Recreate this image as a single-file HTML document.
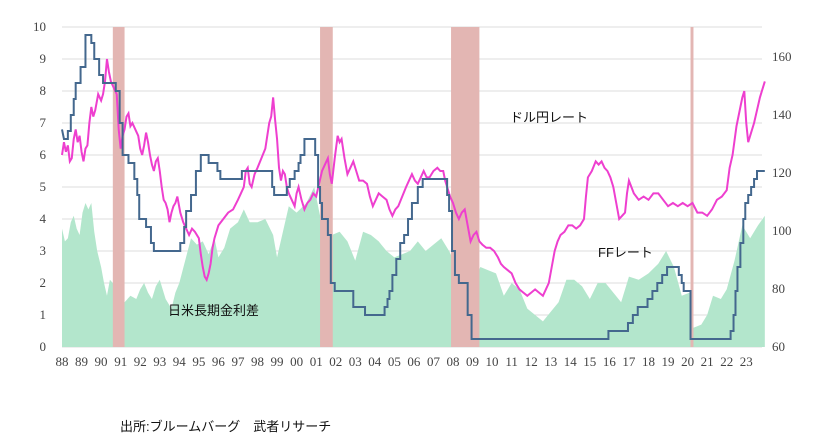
<!DOCTYPE html><html><head><meta charset="utf-8"><style>body{margin:0;background:#fff}svg{display:block}text{font-family:"Liberation Serif","Noto Serif CJK SC",serif;fill:#444;font-size:13px}.jp{font-family:"Liberation Sans","Noto Sans CJK JP",sans-serif;fill:#111}</style></head><body>
<svg width="825" height="438" xmlns="http://www.w3.org/2000/svg">
<g stroke="#dedede" stroke-width="1">
<line x1="62" x2="762" y1="27" y2="27"/><line x1="62" x2="762" y1="59" y2="59"/><line x1="62" x2="762" y1="91" y2="91"/><line x1="62" x2="762" y1="123" y2="123"/><line x1="62" x2="762" y1="155" y2="155"/><line x1="62" x2="762" y1="187" y2="187"/><line x1="62" x2="762" y1="219" y2="219"/><line x1="62" x2="762" y1="251" y2="251"/><line x1="62" x2="762" y1="283" y2="283"/><line x1="62" x2="762" y1="315" y2="315"/><line x1="62" x2="762" y1="347" y2="347"/>
</g>
<g transform="translate(62 347) scale(19.55 -32) translate(-1988 0)">
<polygon fill="#b3e6cc" points="1988,0 1988,3.7 1988.15,3.3 1988.3,3.4 1988.45,3.9 1988.6,4.1 1988.75,3.7 1988.9,3.5 1989.05,4.2 1989.2,4.5 1989.35,4.3 1989.5,4.5 1989.65,3.6 1989.8,3 1990,2.5 1990.15,2 1990.3,1.6 1990.45,2.1 1990.6,2 1990.7,1.8 1991.2,1.4 1991.5,1.6 1991.8,1.5 1992,1.8 1992.2,2 1992.4,1.7 1992.6,1.5 1992.8,1.9 1993,2.1 1993.15,1.8 1993.3,1.5 1993.6,1.2 1993.8,1.7 1994,2 1994.3,2.7 1994.6,3.4 1994.9,3.2 1995.2,3.3 1995.5,2.9 1995.8,3.4 1996,2.8 1996.3,3.1 1996.6,3.7 1997,3.9 1997.3,4.3 1997.6,3.9 1998,3.9 1998.4,4 1998.8,3.5 1999,2.8 1999.3,3.6 1999.6,4.4 2000,4.2 2000.5,4.5 2000.9,5 2001.2,4.1 2001.5,4 2001.8,3.5 2002.2,3.6 2002.6,3.3 2003,2.7 2003.4,3.6 2003.8,3.5 2004.2,3.3 2004.6,3 2005,2.8 2005.4,2.9 2005.8,3 2006.2,3.3 2006.6,3 2007,3.2 2007.4,3.4 2007.8,3 2008.2,2.5 2008.6,2.7 2009,2 2009.4,2.5 2009.8,2.4 2010.2,2.3 2010.6,1.6 2011,2 2011.4,1.8 2011.8,1.2 2012.2,1 2012.6,0.8 2013,1.1 2013.4,1.4 2013.8,2.1 2014.2,2.1 2014.6,1.9 2015,1.5 2015.4,2 2015.8,2 2016.2,1.7 2016.6,1.4 2017,2.2 2017.5,2.1 2018,2.3 2018.5,2.6 2018.9,3 2019.3,2.5 2019.7,1.6 2020.1,1.7 2020.3,0.6 2020.7,0.7 2021,1 2021.3,1.6 2021.7,1.5 2022,1.8 2022.4,2.7 2022.8,3.8 2023.2,3.4 2023.6,3.8 2023.95,4.1 2023.95,0"/>
<g fill="#e3b6b3"><rect x="1990.6" y="0" width="0.6" height="10"/><rect x="2001.2" y="0" width="0.65" height="10"/><rect x="2007.9" y="0" width="1.45" height="10"/><rect x="2020.15" y="0" width="0.15" height="10"/></g>
<polyline fill="none" stroke="#ee3fcf" stroke-width="2" vector-effect="non-scaling-stroke" points="1988,6 1988.1,6.4 1988.2,6.1 1988.3,6.3 1988.4,5.8 1988.5,5.9 1988.6,6.5 1988.7,6.8 1988.8,6.4 1988.9,6.6 1989,6.1 1989.1,5.8 1989.2,6.2 1989.3,6.3 1989.4,7 1989.5,7.5 1989.6,7.2 1989.7,7.4 1989.85,7.9 1990,7.7 1990.1,7.9 1990.2,8.3 1990.3,9 1990.4,8.6 1990.5,8.3 1990.65,8.1 1990.8,7.9 1990.9,6.8 1991,6.2 1991.1,6.6 1991.2,6.8 1991.3,7.2 1991.4,7.3 1991.5,6.9 1991.6,7 1991.75,6.8 1991.9,6.6 1992,6.2 1992.1,6 1992.2,6.3 1992.3,6.7 1992.4,6.4 1992.5,6 1992.6,5.7 1992.7,5.5 1992.8,5.8 1992.9,5.9 1993,5.5 1993.1,5 1993.2,4.6 1993.3,4.5 1993.4,4.3 1993.5,3.9 1993.6,4.2 1993.7,4.4 1993.8,4.5 1993.9,4.7 1994.05,4.2 1994.2,3.9 1994.35,3.7 1994.5,3.5 1994.65,3.7 1994.8,3.6 1995,3.4 1995.1,2.9 1995.2,2.5 1995.3,2.2 1995.4,2.1 1995.5,2.3 1995.6,2.6 1995.7,3.1 1995.8,3.4 1996,3.8 1996.25,4 1996.5,4.2 1996.75,4.3 1997,4.6 1997.15,4.8 1997.3,5 1997.4,5.5 1997.5,5.6 1997.6,5.1 1997.7,5 1997.85,5.4 1998,5.6 1998.2,5.9 1998.4,6.2 1998.5,6.6 1998.6,7 1998.7,7.2 1998.8,7.8 1998.9,7.1 1999,6.5 1999.1,5.6 1999.2,5.2 1999.3,5.5 1999.4,5.4 1999.5,5 1999.6,4.8 1999.75,4.6 1999.9,4.4 2000,4.8 2000.1,5 2000.25,4.6 2000.4,4.3 2000.55,4.5 2000.7,4.6 2000.85,4.8 2001,4.7 2001.15,5.1 2001.3,5.5 2001.45,5.7 2001.6,5.9 2001.7,5.4 2001.8,5.1 2001.95,5.9 2002.1,6.6 2002.2,6.4 2002.3,6.5 2002.45,5.9 2002.6,5.4 2002.75,5.6 2002.9,5.8 2003.05,5.5 2003.2,5.2 2003.4,5.2 2003.6,5.1 2003.75,4.7 2003.9,4.4 2004.05,4.6 2004.2,4.8 2004.4,4.7 2004.6,4.6 2004.75,4.3 2004.9,4.1 2005.05,4.3 2005.2,4.4 2005.4,4.7 2005.6,5 2005.75,5.2 2005.9,5.4 2006.05,5.2 2006.2,5.1 2006.35,5.3 2006.5,5.5 2006.65,5.3 2006.8,5.3 2007,5.5 2007.2,5.6 2007.35,5.5 2007.5,5.5 2007.6,5.2 2007.7,5 2007.85,4.7 2008,4.5 2008.15,4.2 2008.3,4 2008.45,4.2 2008.6,4.3 2008.75,3.8 2008.9,3.3 2009.05,3.5 2009.2,3.6 2009.35,3.3 2009.5,3.2 2009.7,3.1 2009.9,3.1 2010.1,3 2010.3,2.8 2010.45,2.6 2010.6,2.5 2010.8,2.4 2011,2.3 2011.2,2 2011.4,1.8 2011.6,1.7 2011.8,1.6 2012,1.7 2012.2,1.8 2012.4,1.7 2012.6,1.6 2012.75,1.8 2012.9,2 2013.05,2.5 2013.2,3 2013.35,3.3 2013.5,3.5 2013.7,3.6 2013.9,3.8 2014.1,3.8 2014.3,3.7 2014.5,3.8 2014.7,4 2014.8,4.7 2014.9,5.3 2015.1,5.5 2015.3,5.8 2015.45,5.7 2015.6,5.8 2015.75,5.6 2015.9,5.5 2016.05,5.3 2016.2,5 2016.35,4.5 2016.5,4 2016.65,4.1 2016.8,4.2 2016.9,4.8 2017,5.2 2017.25,4.8 2017.5,4.6 2017.75,4.7 2018,4.6 2018.25,4.8 2018.5,4.8 2018.75,4.6 2019,4.4 2019.25,4.5 2019.5,4.4 2019.75,4.5 2020,4.4 2020.25,4.5 2020.5,4.2 2020.75,4.2 2021,4.1 2021.25,4.3 2021.5,4.6 2021.75,4.7 2022,4.9 2022.15,5.6 2022.3,6 2022.5,6.9 2022.7,7.5 2022.8,7.8 2022.9,8 2023,7 2023.1,6.4 2023.25,6.7 2023.4,7 2023.55,7.4 2023.7,7.8 2023.85,8.1 2023.95,8.3"/>
<polyline fill="none" stroke="#44688e" stroke-width="2" vector-effect="non-scaling-stroke" points="1988,6.8 1988.1,6.5 1988.3,6.5 1988.3,6.75 1988.45,6.75 1988.45,7.25 1988.6,7.25 1988.6,7.75 1988.7,7.75 1988.7,8.25 1988.95,8.25 1988.95,8.75 1989.2,8.75 1989.2,9.75 1989.5,9.75 1989.5,9.5 1989.65,9.5 1989.65,9 1989.9,9 1989.9,8.5 1990.1,8.5 1990.1,8.25 1990.75,8.25 1990.75,8 1990.95,8 1990.95,7 1991.1,7 1991.1,6 1991.4,6 1991.4,5.75 1991.7,5.75 1991.7,5.25 1991.85,5.25 1991.85,4.75 1991.95,4.75 1991.95,4 1992.3,4 1992.3,3.75 1992.55,3.75 1992.55,3.25 1992.7,3.25 1992.7,3 1994.05,3 1994.05,3.25 1994.25,3.25 1994.25,3.75 1994.35,3.75 1994.35,4.25 1994.6,4.25 1994.6,4.75 1994.85,4.75 1994.85,5.5 1995.1,5.5 1995.1,6 1995.5,6 1995.5,5.75 1995.95,5.75 1995.95,5.5 1996.1,5.5 1996.1,5.25 1997.2,5.25 1997.2,5.5 1998.75,5.5 1998.75,5 1998.85,5 1998.85,4.75 1999.5,4.75 1999.5,5 1999.65,5 1999.65,5.25 1999.9,5.25 1999.9,5.5 2000.1,5.5 2000.1,5.75 2000.2,5.75 2000.2,6 2000.4,6 2000.4,6.5 2000.95,6.5 2000.95,6 2001.1,6 2001.1,5 2001.2,5 2001.2,4.5 2001.3,4.5 2001.3,4 2001.6,4 2001.6,3.5 2001.75,3.5 2001.75,2 2001.95,2 2001.95,1.75 2002.9,1.75 2002.9,1.25 2003.5,1.25 2003.5,1 2004.5,1 2004.5,1.25 2004.65,1.25 2004.65,1.5 2004.75,1.5 2004.75,1.75 2004.9,1.75 2004.9,2.25 2005.1,2.25 2005.1,2.75 2005.3,2.75 2005.3,3.25 2005.5,3.25 2005.5,3.5 2005.7,3.5 2005.7,4 2005.9,4 2005.9,4.5 2006.2,4.5 2006.2,5 2006.45,5 2006.45,5.25 2007.7,5.25 2007.7,4.75 2007.8,4.75 2007.8,4.25 2007.95,4.25 2007.95,3 2008.1,3 2008.1,2.25 2008.3,2.25 2008.3,2 2008.75,2 2008.75,1 2008.95,1 2008.95,0.25 2015.95,0.25 2015.95,0.5 2016.95,0.5 2016.95,0.75 2017.2,0.75 2017.2,1 2017.45,1 2017.45,1.25 2017.95,1.25 2017.95,1.5 2018.2,1.5 2018.2,1.75 2018.45,1.75 2018.45,2 2018.7,2 2018.7,2.25 2018.95,2.25 2018.95,2.5 2019.55,2.5 2019.55,2.25 2019.7,2.25 2019.7,2 2019.8,2 2019.8,1.75 2020.15,1.75 2020.15,0.25 2022.2,0.25 2022.2,0.5 2022.35,0.5 2022.35,1 2022.45,1 2022.45,1.75 2022.55,1.75 2022.55,2.5 2022.7,2.5 2022.7,3.25 2022.85,3.25 2022.85,4 2022.95,4 2022.95,4.5 2023.1,4.5 2023.1,4.75 2023.25,4.75 2023.25,5 2023.4,5 2023.4,5.25 2023.55,5.25 2023.55,5.5 2023.95,5.5"/>
</g>
<g text-anchor="end"><text x="46" y="31">10</text><text x="46" y="63">9</text><text x="46" y="95">8</text><text x="46" y="127">7</text><text x="46" y="159">6</text><text x="46" y="191">5</text><text x="46" y="223">4</text><text x="46" y="255">3</text><text x="46" y="287">2</text><text x="46" y="319">1</text><text x="46" y="351">0</text></g>
<g><text x="772" y="61">160</text><text x="772" y="119">140</text><text x="772" y="177">120</text><text x="772" y="235">100</text><text x="772" y="293">80</text><text x="772" y="351">60</text></g>
<g text-anchor="middle" font-size="11.5"><text x="62" y="366">88</text><text x="81.5" y="366">89</text><text x="101" y="366">90</text><text x="120.7" y="366">91</text><text x="140.2" y="366">92</text><text x="159.8" y="366">93</text><text x="179.3" y="366">94</text><text x="198.9" y="366">95</text><text x="218.4" y="366">96</text><text x="238" y="366">97</text><text x="257.5" y="366">98</text><text x="277" y="366">99</text><text x="296.6" y="366">00</text><text x="316.2" y="366">01</text><text x="335.7" y="366">02</text><text x="355.3" y="366">03</text><text x="374.8" y="366">04</text><text x="394.4" y="366">05</text><text x="413.9" y="366">06</text><text x="433.5" y="366">07</text><text x="453" y="366">08</text><text x="472.5" y="366">09</text><text x="492" y="366">10</text><text x="511.6" y="366">11</text><text x="531.2" y="366">12</text><text x="550.7" y="366">13</text><text x="570.3" y="366">14</text><text x="589.8" y="366">15</text><text x="609.4" y="366">16</text><text x="628.9" y="366">17</text><text x="648.5" y="366">18</text><text x="668" y="366">19</text><text x="687.6" y="366">20</text><text x="707.1" y="366">21</text><text x="726.7" y="366">22</text><text x="746.2" y="366">23</text></g>
<text class="jp" x="510" y="122" font-size="13">ドル円レート</text>
<text class="jp" x="598" y="257" font-size="13">FFレート</text>
<text class="jp" x="168" y="315" font-size="13">日米長期金利差</text>
<text class="jp" x="120" y="431" font-size="12">出所:ブルームバーグ　武者リサーチ</text>
</svg></body></html>
